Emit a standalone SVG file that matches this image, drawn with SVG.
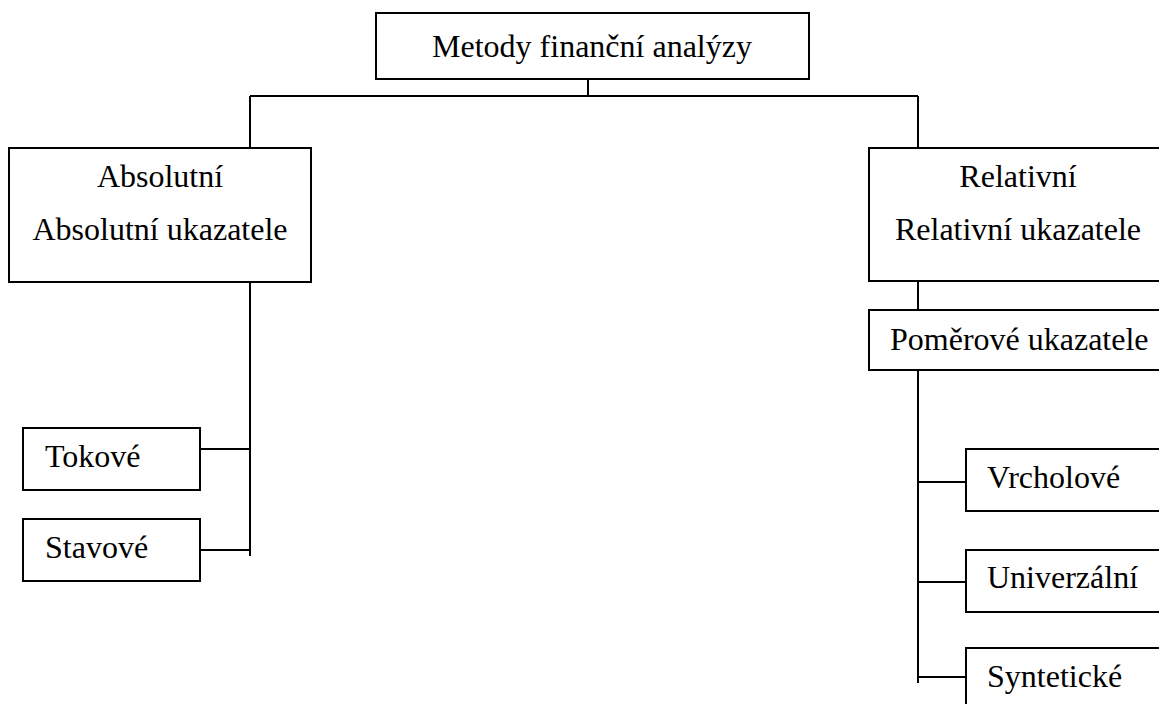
<svg xmlns="http://www.w3.org/2000/svg" width="1159" height="704" viewBox="0 0 1159 704">
<style>
.box{fill:#fff;stroke:#000;stroke-width:2}
.ln{fill:none;stroke:#000;stroke-width:2}
.t{font-family:'Liberation Serif','Times New Roman',Times,serif;font-size:32px;fill:#000}
.c{text-anchor:middle}
</style>
<rect width="1159" height="704" fill="#fff"/>
<g id="connectors">
<path class="ln" d="M588,79 V96 M250,96 H918 M250,96 V148 M918,96 V148"/>
<path class="ln" d="M250,282 V556 M200,449 H250 M200,550 H250"/>
<path class="ln" d="M918,281 V310 M918,370 V683 M918,482 H966 M918,582 H966 M918,677 H966"/>
</g>
<g id="n-root"><rect class="box" x="376" y="13" width="433" height="66"/><text class="t c" x="592" y="57">Metody finanční analýzy</text></g>
<g id="n-abs"><rect class="box" x="9" y="148" width="302" height="134"/><text class="t c" x="160" y="187">Absolutní</text><text class="t c" x="160" y="240">Absolutní ukazatele</text></g>
<g id="n-rel"><rect class="box" x="869" y="148" width="300" height="133"/><text class="t c" x="1018" y="187">Relativní</text><text class="t c" x="1018" y="240">Relativní ukazatele</text></g>
<g id="n-pom"><rect class="box" x="869" y="310" width="300" height="60"/><text class="t" x="890" y="350">Poměrové ukazatele</text></g>
<g id="n-tok"><rect class="box" x="23" y="428" width="177" height="62"/><text class="t" x="45" y="467">Tokové</text></g>
<g id="n-stav"><rect class="box" x="23" y="519" width="177" height="62"/><text class="t" x="45" y="558">Stavové</text></g>
<g id="n-vrch"><rect class="box" x="966" y="449" width="200" height="62"/><text class="t" x="987" y="488">Vrcholové</text></g>
<g id="n-univ"><rect class="box" x="966" y="550" width="200" height="62"/><text class="t" x="987" y="588">Univerzální</text></g>
<g id="n-synt"><rect class="box" x="966" y="648" width="200" height="70"/><text class="t" x="987" y="687">Syntetické</text></g>
</svg>
